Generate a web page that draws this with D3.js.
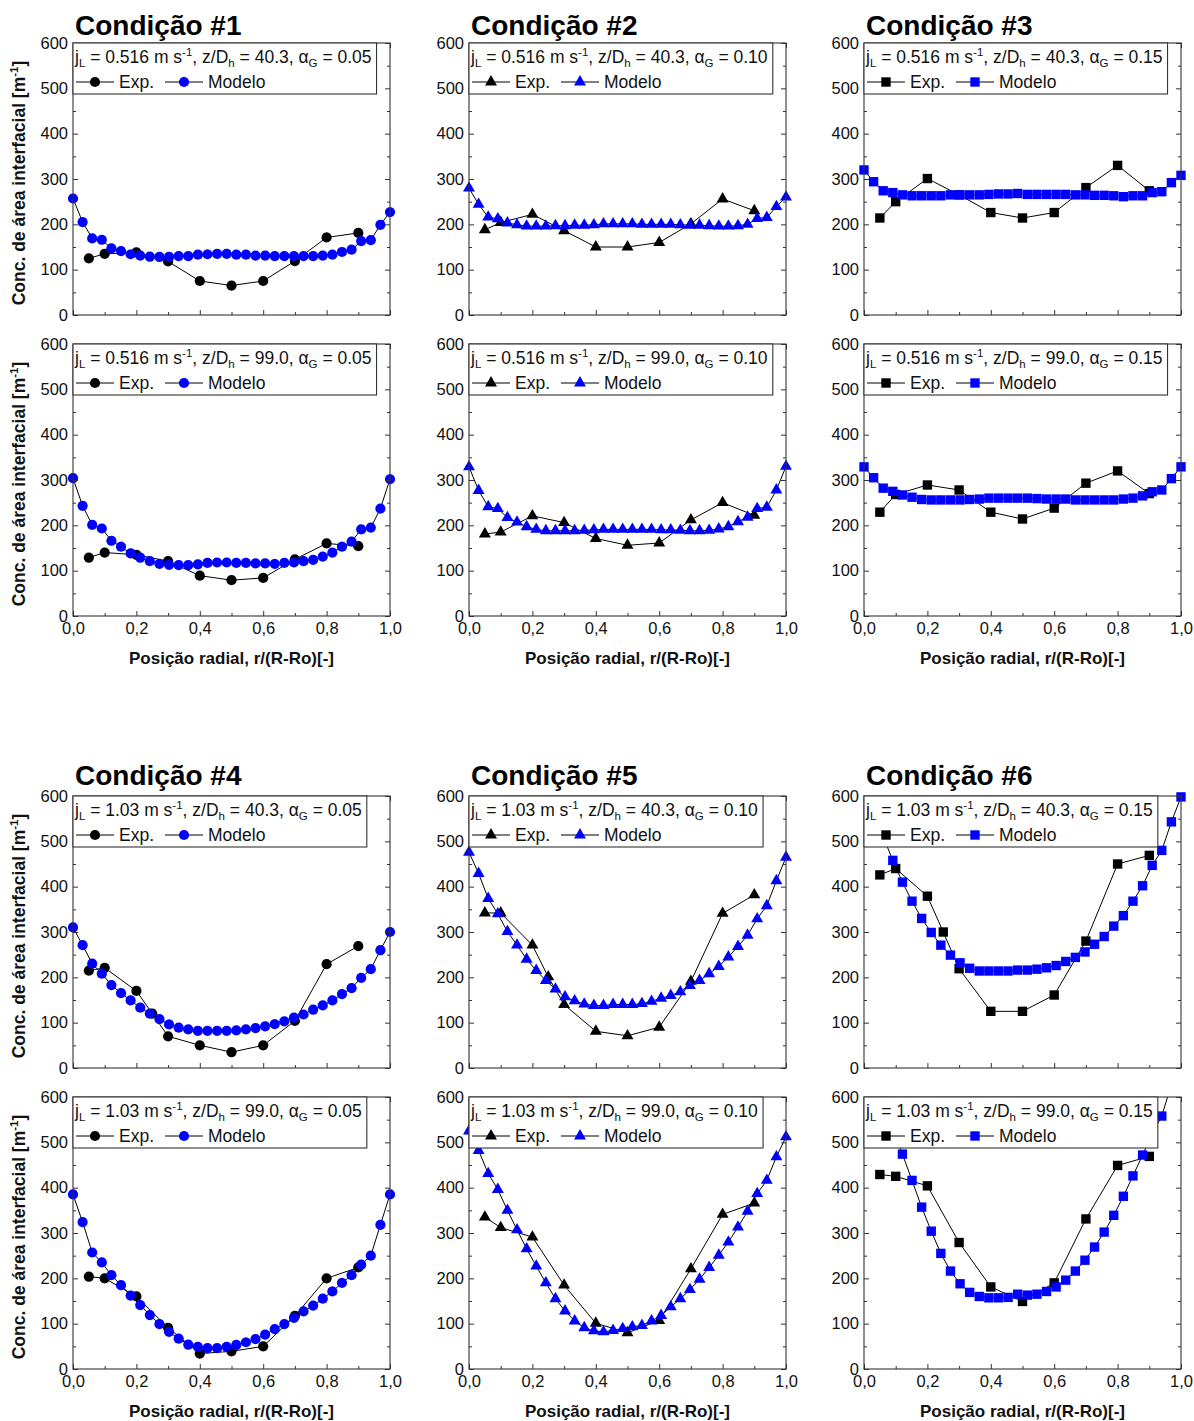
<!DOCTYPE html>
<html>
<head>
<meta charset="utf-8">
<script src="https://cdn.jsdelivr.net/npm/d3@7"></script>
<style>
  body { margin: 0; background: #fff; }
  svg { display: block; font-family: "Liberation Sans", Arial, sans-serif; }
</style>
</head>
<body>
<div id="chart"></div>
<script>
  // radial positions
  const xExp = [0.05, 0.1, 0.2, 0.3, 0.4, 0.5, 0.6, 0.7, 0.8, 0.9];
  const xExpB = [0.05, 0.1, 0.2, 0.25, 0.3, 0.4, 0.5, 0.6, 0.7, 0.8, 0.9];
  const xModel = [
    0, 0.0303, 0.0606, 0.0909, 0.1212, 0.1515, 0.1818, 0.2121, 0.2424, 0.2727,
    0.303, 0.3333, 0.3636, 0.3939, 0.4242, 0.4545, 0.4848, 0.5152, 0.5455,
    0.5758, 0.6061, 0.6364, 0.6667, 0.697, 0.7273, 0.7576, 0.7879, 0.8182,
    0.8485, 0.8788, 0.9091, 0.9394, 0.9697, 1,
  ];

  // panel labels
  const conditions = ["Condição #1", "Condição #2", "Condição #3", "Condição #4", "Condição #5", "Condição #6"];
  const jL = ["0.516", "0.516", "0.516", "1.03", "1.03", "1.03"];
  const alphaG = ["0.05", "0.10", "0.15", "0.05", "0.10", "0.15"];
  const zDh = ["40.3", "99.0"];
  const markers = ["circle", "triangle", "square", "circle", "triangle", "square"];
  const yTicks = [0, 100, 200, 300, 400, 500, 600];
  const yMinor = [50, 150, 250, 350, 450, 550];
  const xTicks = [0, 0.2, 0.4, 0.6, 0.8, 1.0];
  const xMinor = [0.1, 0.3, 0.5, 0.7, 0.9];

  // experimental values [m-1]
  const exp1_z40 = [125, 135, 138, 118, 75, 65, 75, 119, 171, 181];
  const exp1_z99 = [129, 140, 135, 121, 89, 79, 84, 125, 160, 154];
  const exp2_z40 = [188, 204, 222, 186, 150, 150, 160, 201, 256, 230];
  const exp2_z99 = [181, 185, 221, 206, 171, 156, 161, 212, 250, 222];
  const exp3_z40 = [214, 250, 301, 265, 226, 214, 226, 281, 330, 274];
  const exp3_z99 = [229, 268, 289, 278, 229, 214, 238, 293, 320, 270];
  const exp4_z40 = [215, 221, 170, 120, 70, 50, 35, 50, 104, 229, 269];
  const exp4_z99 = [204, 200, 160, 91, 34, 39, 50, 117, 200, 224];
  const exp5_z40 = [342, 342, 271, 201, 140, 81, 71, 90, 191, 341, 382];
  const exp5_z99 = [335, 312, 291, 185, 101, 80, 107, 221, 341, 366];
  const exp6_z40 = [426, 440, 379, 300, 219, 125, 125, 161, 280, 450, 469];
  const exp6_z99 = [429, 425, 404, 279, 181, 149, 190, 331, 449, 469];

  // model values [m-1]
  const model1_z40 = [257, 205, 169, 166, 147, 141, 134, 131, 129, 128, 128, 130, 130, 133, 134, 135, 135, 133, 133, 131, 131, 130, 130, 130, 130, 130, 131, 133, 139, 144, 163, 165, 199, 227];
  const model1_z99 = [304, 243, 201, 193, 166, 153, 138, 129, 121, 115, 113, 112, 112, 114, 117, 118, 118, 117, 117, 116, 116, 115, 117, 118, 121, 124, 131, 140, 153, 164, 191, 195, 237, 302];
  const model2_z40 = [280, 244, 216, 212, 203, 199, 196, 196, 196, 197, 197, 198, 198, 199, 201, 201, 201, 201, 200, 200, 200, 200, 199, 198, 198, 197, 196, 196, 197, 200, 213, 215, 239, 260];
  const model2_z99 = [329, 277, 241, 237, 217, 207, 197, 191, 188, 188, 188, 188, 189, 190, 191, 191, 191, 191, 191, 191, 190, 190, 189, 188, 188, 189, 192, 197, 208, 218, 237, 240, 278, 330];
  const model3_z40 = [320, 294, 274, 270, 265, 263, 263, 263, 263, 265, 265, 265, 265, 266, 267, 267, 268, 266, 266, 266, 266, 266, 265, 265, 264, 264, 263, 261, 263, 263, 270, 272, 292, 308];
  const model3_z99 = [329, 305, 282, 275, 267, 262, 257, 256, 256, 256, 256, 257, 258, 260, 260, 260, 260, 260, 259, 258, 258, 258, 256, 256, 256, 256, 256, 258, 260, 265, 274, 278, 303, 329];
  const model4_z40 = [310, 271, 230, 208, 183, 165, 149, 133, 120, 108, 96, 89, 85, 82, 82, 82, 82, 83, 85, 88, 92, 97, 103, 111, 118, 129, 138, 149, 163, 176, 199, 218, 260, 300];
  const model4_z99 = [385, 324, 257, 235, 207, 185, 162, 141, 119, 99, 82, 67, 54, 49, 46, 46, 49, 53, 59, 66, 76, 88, 99, 113, 127, 140, 155, 171, 190, 207, 230, 250, 318, 385];
  const model5_z40 = [476, 429, 374, 340, 301, 271, 240, 215, 193, 174, 157, 148, 141, 138, 138, 140, 140, 140, 142, 147, 154, 160, 168, 182, 193, 208, 224, 245, 268, 293, 329, 358, 413, 465];
  const model5_z99 = [525, 482, 431, 396, 350, 307, 265, 227, 190, 155, 128, 106, 91, 84, 82, 85, 89, 93, 96, 106, 118, 137, 155, 175, 198, 224, 251, 280, 313, 348, 387, 416, 468, 512];
  const model6_z40 = [640, 560, 510, 458, 410, 368, 330, 299, 271, 249, 232, 220, 214, 214, 214, 214, 216, 216, 218, 221, 226, 235, 244, 256, 273, 290, 313, 336, 368, 402, 447, 480, 543, 598];
  const model6_z99 = [700, 650, 590, 530, 474, 416, 357, 304, 255, 216, 188, 169, 160, 157, 157, 158, 165, 163, 165, 171, 181, 196, 216, 240, 269, 302, 339, 381, 426, 472, 519, 558, 628, 690];

  const expSeries = [
    [exp1_z40, exp1_z99], [exp2_z40, exp2_z99], [exp3_z40, exp3_z99],
    [exp4_z40, exp4_z99], [exp5_z40, exp5_z99], [exp6_z40, exp6_z99],
  ];
  const modelSeries = [
    [model1_z40, model1_z99], [model2_z40, model2_z99], [model3_z40, model3_z99],
    [model4_z40, model4_z99], [model5_z40, model5_z99], [model6_z40, model6_z99],
  ];

  // layout
  const W = 1194;
  const H = 1421;
  const colX = [73, 469, 864];
  const rowY = [43, 344, 796, 1097];
  const titleOffset = [-8, 0, -11, 0];
  const width = 317;
  const height = 272;
  const BLUE = "#0000ff";

  const svg = d3
    .select("#chart")
    .append("svg")
    .attr("width", W)
    .attr("height", H);

  const x = d3.scaleLinear().domain([0, 1]).range([0, width]);
  const y = d3.scaleLinear().domain([0, 600]).range([height, 0]);

  const markerPath = {
    circle: d3.symbol().type(d3.symbolCircle).size(82)(),
    triangle: d3.symbol().type(d3.symbolTriangle).size(62)(),
    square: d3.symbol().type(d3.symbolSquare).size(88)(),
  };

  // text with sub/superscripts: parts = [[text, "sub"|"sup"|""], ...]
  function richText(sel, parts, small) {
    let shift = 0;
    parts.forEach(([t, kind]) => {
      const target = kind === "sub" ? 4 : kind === "sup" ? -7 : 0;
      const ts = sel.append("tspan").attr("dy", target - shift).text(t);
      if (kind) ts.attr("font-size", small);
      shift = target;
    });
  }

  const defs = svg.append("defs");
  defs
    .append("clipPath")
    .attr("id", "clip-line")
    .append("rect")
    .attr("x", -8)
    .attr("y", 0)
    .attr("width", width + 16)
    .attr("height", height);
  defs
    .append("clipPath")
    .attr("id", "clip-mark")
    .append("rect")
    .attr("x", -8)
    .attr("y", -6)
    .attr("width", width + 16)
    .attr("height", height + 12);

  const line = d3
    .line()
    .x((d) => x(d[0]))
    .y((d) => y(d[1]));

  function drawPanel(c, z) {
    const col = c % 3;
    const row = (c < 3 ? 0 : 2) + z;
    const g = svg
      .append("g")
      .attr("transform", `translate(${colX[col]}, ${rowY[row]})`);

    const expVals = expSeries[c][z];
    const expXs = expVals.length === xExpB.length ? xExpB : xExp;
    const expData = expVals.map((v, i) => [expXs[i], v]);
    const modelData = modelSeries[c][z].map((v, i) => [xModel[i], v]);
    const shape = markerPath[markers[c]];

    // series: experimental first, model on top
    [
      [expData, "#000"],
      [modelData, BLUE],
    ].forEach(([data, color]) => {
      g.append("path")
        .datum(data)
        .attr("clip-path", "url(#clip-line)")
        .attr("fill", "none")
        .attr("stroke", "#000")
        .attr("stroke-width", 1)
        .attr("d", line);
      g.append("g")
        .attr("clip-path", "url(#clip-mark)")
        .selectAll("path")
        .data(data)
        .join("path")
        .attr("transform", (d) => `translate(${x(d[0])}, ${y(d[1])})`)
        .attr("d", shape)
        .attr("fill", color);
    });

    // axes, ticks inside on all four sides
    const fmtX = (d) => d3.format(".1f")(d).replace(".", ",");
    const showX = z === 1;
    const axes = [
      [d3.axisBottom(x).tickValues(xTicks).tickSize(-5).tickPadding(6)
        .tickFormat(showX ? fmtX : ""), `translate(0, ${height})`],
      [d3.axisBottom(x).tickValues(xMinor).tickSize(-3).tickFormat(""), `translate(0, ${height})`],
      [d3.axisTop(x).tickValues(xTicks).tickSize(-5).tickFormat(""), null],
      [d3.axisTop(x).tickValues(xMinor).tickSize(-3).tickFormat(""), null],
      [d3.axisLeft(y).tickValues(yTicks).tickSize(-5).tickPadding(5), null],
      [d3.axisLeft(y).tickValues(yMinor).tickSize(-3).tickFormat(""), null],
      [d3.axisRight(y).tickValues(yTicks).tickSize(-5).tickFormat(""), `translate(${width}, 0)`],
      [d3.axisRight(y).tickValues(yMinor).tickSize(-3).tickFormat(""), `translate(${width}, 0)`],
    ];
    axes.forEach(([axis, tr]) => {
      const a = g.append("g").call(axis);
      if (tr) a.attr("transform", tr);
      a.select(".domain").remove();
      a.selectAll("line").attr("stroke", "#333");
      a.attr("font-family", null).attr("font-size", 16.5);
      a.selectAll("text").attr("fill", "#111");
    });

    g.append("rect")
      .attr("width", width)
      .attr("height", height)
      .attr("fill", "none")
      .attr("stroke", "#333")
      .attr("stroke-width", 1.1);

    // legend
    const leg = g.append("g");
    const box = leg.append("rect").attr("fill", "#fff").attr("stroke", "#333").attr("stroke-width", 1.1);
    const t1 = leg.append("text").attr("x", 2).attr("y", 20).attr("font-size", 17.5).attr("fill", "#111");
    richText(t1, [
      ["j", ""], ["L", "sub"], [` = ${jL[c]} m s`, ""], ["-1", "sup"],
      [", z/D", ""], ["h", "sub"], [` = ${zDh[z]}, `, ""], ["\u03b1", ""],
      ["G", "sub"], [` = ${alphaG[c]}`, ""],
    ], 11.5);
    const bw = t1.node().getBBox().width;
    box.attr("x", 0).attr("y", 0).attr("width", bw + 6).attr("height", 51);

    [
      [3, "#000", "Exp."],
      [92, BLUE, "Modelo"],
    ].forEach(([x0, color, label]) => {
      leg.append("line")
        .attr("x1", x0).attr("x2", x0 + 38)
        .attr("y1", 39).attr("y2", 39)
        .attr("stroke", "#000").attr("stroke-width", 1);
      leg.append("path")
        .attr("transform", `translate(${x0 + 19}, 39)`)
        .attr("d", shape)
        .attr("fill", color);
      leg.append("text")
        .attr("x", x0 + 43).attr("y", 45)
        .attr("font-size", 17.5).attr("fill", "#111")
        .text(label);
    });

    // panel title above first row of each group
    if (z === 0) {
      g.append("text")
        .attr("x", 2).attr("y", titleOffset[row])
        .attr("font-size", 28).attr("font-weight", "bold")
        .attr("fill", "#000")
        .text(conditions[c]);
    }

    // y label on the first column
    if (col === 0) {
      const yl = svg.append("text")
        .attr("transform", `translate(25, ${rowY[row] + height / 2 + 4}) rotate(-90)`)
        .attr("text-anchor", "middle")
        .attr("font-size", 17.5).attr("font-weight", "bold").attr("fill", "#111");
      richText(yl, [["Conc. de área interfacial [m", ""], ["-1", "sup"], ["]", ""]], 11.5);
    }

    // x label under bottom rows
    if (showX) {
      g.append("text")
        .attr("x", width / 2).attr("y", height + 48)
        .attr("text-anchor", "middle")
        .attr("font-size", 17).attr("font-weight", "bold").attr("fill", "#111")
        .text("Posição radial, r/(R-Ro)[-]");
    }
  }

  for (let c = 0; c < 6; c++) {
    for (let z = 0; z < 2; z++) drawPanel(c, z);
  }
</script>
</body>
</html>
